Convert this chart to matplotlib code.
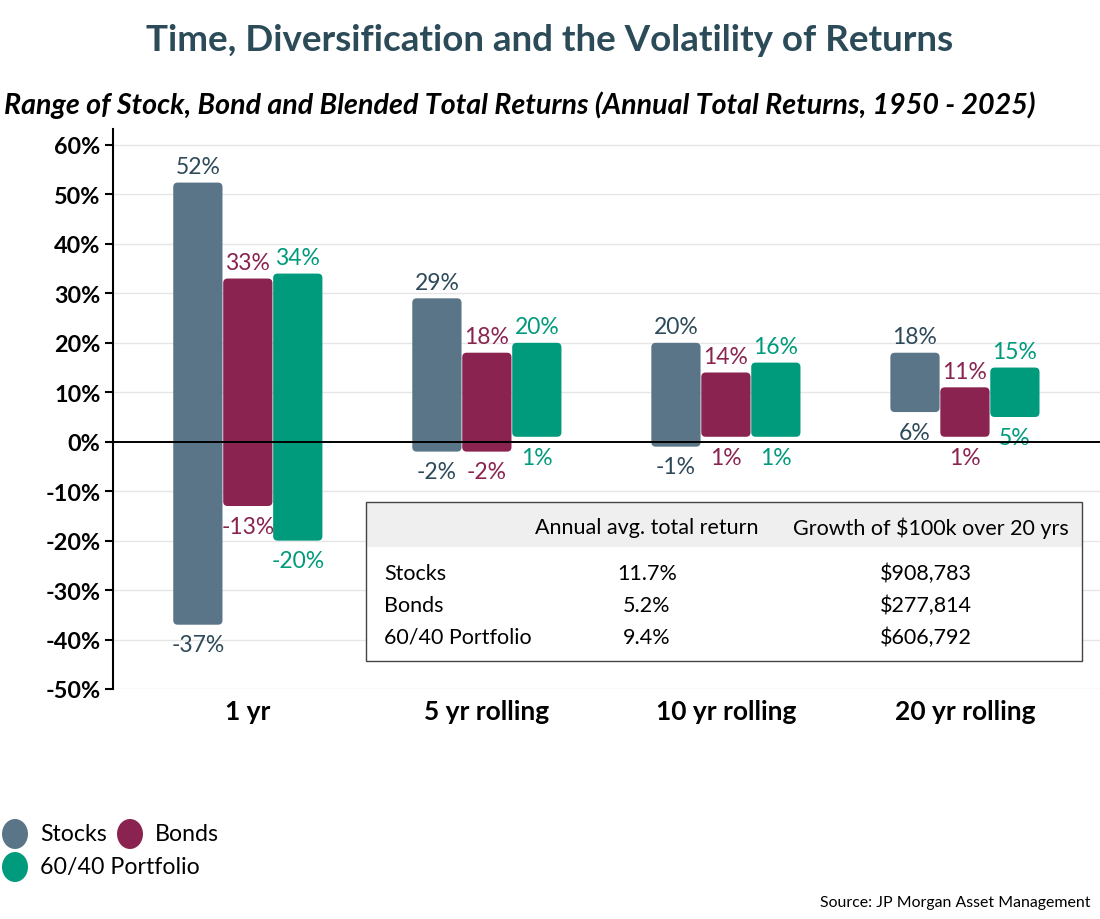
import matplotlib
matplotlib.use("Agg")
import matplotlib.pyplot as plt
from matplotlib.patches import FancyBboxPatch, Rectangle, Ellipse
import numpy as np

# ---------------- data ----------------
categories = ['1 yr', '5 yr rolling', '10 yr rolling', '20 yr rolling']
series_names = ['Stocks', 'Bonds', '60/40 Portfolio']
stocks_max = [52.4, 29, 20, 18]
stocks_min = [-37, -2, -1, 6]
bonds_max = [33, 18, 14, 11]
bonds_min = [-13, -2, 1, 1]
port_max = [34, 20, 16, 15]
port_min = [-20, 1, 1, 5]
y_ticks = [60, 50, 40, 30, 20, 10, 0, -10, -20, -30, -40, -50]

table_header = ['', 'Annual avg. total return', 'Growth of $100k over 20 yrs']
table_rows = ['Stocks', 'Bonds', '60/40 Portfolio']
table_avg = ['11.7%', '5.2%', '9.4%']
table_growth = ['$908,783', '$277,814', '$606,792']

# ---------------- style ----------------
plt.rcParams['font.family'] = ['Lato', 'DejaVu Sans']
bar_colors = ['#5a7588', '#8a2350', '#009a7c']
label_colors = ['#2e4a5a', '#8a2350', '#009a7c']
title_color = '#2c4b59'

W, H = 1100, 920
fig = plt.figure(figsize=(11, 9.2), dpi=100)
fx = lambda x: x / W
fy = lambda y: 1 - y / H

ax_left, ax_right, ax_top, ax_bot = 113, 1100, 130, 690
ax = fig.add_axes([fx(ax_left), fy(ax_bot), fx(ax_right - ax_left), (ax_bot - ax_top) / H])

x0, x1 = -0.564, 3.565
y0 = -50
y1 = 60 + (146 - 130) / ((690 - 146) / 110)
ax.set_xlim(x0, x1)
ax.set_ylim(y0, y1)

# grid
for t in y_ticks:
    if t != 0:
        ax.axhline(t, color='#e6e6e6', lw=1, zorder=0)
ax.axhline(0, color='black', lw=1.4, zorder=5)

# bars
x = np.arange(len(categories))
bw = 0.206
step = 0.209
offsets = [-step, 0, step]
maxs = [stocks_max, bonds_max, port_max]
mins = [stocks_min, bonds_min, port_min]

ax_w_px = ax_right - ax_left
ax_h_px = ax_bot - ax_top
aspect = ((y1 - y0) / ax_h_px) / ((x1 - x0) / ax_w_px)
rpx = 4.5 * (x1 - x0) / ax_w_px

lfs = 16.5
for si in range(3):
    hi = np.array(maxs[si]); lo = np.array(mins[si])
    bars = ax.bar(x + offsets[si], hi - lo, bottom=lo, width=bw, color=bar_colors[si])
    for b in bars:
        bx, by, bwid, bh = b.get_x(), b.get_y(), b.get_width(), b.get_height()
        b.set_visible(False)
        p = FancyBboxPatch((bx, by), bwid, bh,
                           boxstyle=f"round,pad=0,rounding_size={rpx}",
                           mutation_aspect=aspect, facecolor=bar_colors[si],
                           edgecolor='none', zorder=3)
        ax.add_patch(p)
    for xi, h, l in zip(x + offsets[si], hi, lo):
        ax.annotate(f"{h:.0f}%", (xi, h), xytext=(0, 4), textcoords='offset points',
                    ha='center', va='bottom', fontsize=lfs, color=label_colors[si])
        ax.annotate(f"{l:.0f}%", (xi, l), xytext=(0, -7), textcoords='offset points',
                    ha='center', va='top', fontsize=lfs, color=label_colors[si])

# axes styling
for s in ['top', 'right', 'bottom']:
    ax.spines[s].set_visible(False)
ax.spines['left'].set_linewidth(1.5)
ax.set_yticks(y_ticks)
ax.set_yticklabels([f"{t}%" for t in y_ticks], fontsize=16.8, fontweight='bold')
ax.tick_params(axis='y', length=6, width=1.5, pad=3)
ax.set_xticks(x)
ax.set_xticklabels(categories, fontsize=19, fontweight='bold')
ax.tick_params(axis='x', length=0, pad=7)

# titles
fig.text(0.5, fy(51), 'Time, Diversification and the Volatility of Returns',
         ha='center', va='baseline', fontsize=26.5, fontweight='bold', color=title_color)
fig.text(fx(4), fy(114), 'Range of Stock, Bond and Blended Total Returns (Annual Total Returns, 1950 - 2025)',
         ha='left', va='baseline', fontsize=20.6, fontweight='bold', fontstyle='italic', color='black')

# table
tb_l, tb_r, tb_t, tb_b = 366, 1082, 503, 662
fig.patches.append(Rectangle((fx(tb_l), fy(tb_b)), fx(tb_r - tb_l), (tb_b - tb_t) / H,
                             transform=fig.transFigure, facecolor='white', edgecolor='none', zorder=5))
fig.patches.append(Rectangle((fx(tb_l), fy(548)), fx(tb_r - tb_l), (548 - tb_t) / H,
                             transform=fig.transFigure, facecolor='#efefef', edgecolor='none', zorder=6))
fig.patches.append(Rectangle((fx(tb_l), fy(tb_b)), fx(tb_r - tb_l), (tb_b - tb_t) / H,
                             transform=fig.transFigure, facecolor='none', edgecolor='#444444', lw=1, zorder=7))
col_x = [384, 647, 931]
tfs = 15.5
fig.text(fx(col_x[1]), fy(528), table_header[1], ha='center', va='center', fontsize=tfs, zorder=8)
fig.text(fx(col_x[2]), fy(528), table_header[2], ha='center', va='center', fontsize=tfs, zorder=8)
row_y = [574, 606, 638]
for i in range(3):
    fig.text(fx(col_x[0]), fy(row_y[i]), table_rows[i], ha='left', va='center', fontsize=tfs, zorder=8)
    fig.text(fx(col_x[1]), fy(row_y[i]), table_avg[i], ha='center', va='center', fontsize=tfs, zorder=8)
    fig.text(fx(926), fy(row_y[i]), table_growth[i], ha='center', va='center', fontsize=tfs, zorder=8)

# legend
leg_pos = [(15, 835), (130, 835), (15, 868)]
for i, name in enumerate(series_names):
    cx, cy = leg_pos[i]
    fig.patches.append(Ellipse((fx(cx), fy(cy)), 26 / W, 30 / H, transform=fig.transFigure,
                               facecolor=bar_colors[i], edgecolor='none'))
    fig.text(fx(cx + 25), fy(cy), name, ha='left', va='center', fontsize=16.7)

fig.text(fx(1090), fy(903), 'Source: JP Morgan Asset Management', ha='right', va='center', fontsize=11.4)

fig.savefig('out.png', dpi=100, facecolor='white')
